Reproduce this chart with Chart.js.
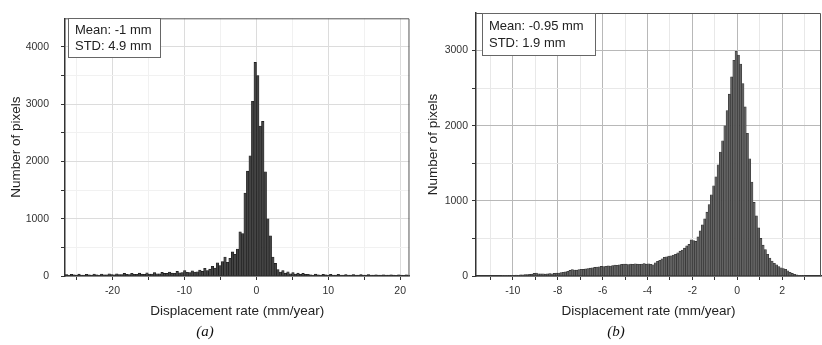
<!DOCTYPE html>
<html>
<head>
<meta charset="utf-8">
<title>Displacement rate histograms</title>
<script src="https://cdn.jsdelivr.net/npm/chart.js@4.4.1/dist/chart.umd.min.js"></script>
<style>
  html, body { margin: 0; padding: 0; background: #fff; }
  .panel { position: absolute; top: 0; width: 411px; height: 345px; }
  #panelA { left: 0; }
  #panelB { left: 411px; }
</style>
</head>
<body>
<div class="panel" id="panelA"><canvas id="chartA" width="411" height="345"></canvas></div>
<div class="panel" id="panelB"><canvas id="chartB" width="411" height="345"></canvas></div>
<script>
// panel (a): bin centres (mm/year) and pixel counts
const binCentersA = [
  -26.4, -26.05, -25.7, -25.35, -25, -24.65, -24.3, -23.95, -23.6, -23.25,
  -22.9, -22.55, -22.2, -21.85, -21.5, -21.15, -20.8, -20.45, -20.1, -19.75,
  -19.4, -19.05, -18.7, -18.35, -18, -17.65, -17.3, -16.95, -16.6, -16.25,
  -15.9, -15.55, -15.2, -14.85, -14.5, -14.15, -13.8, -13.45, -13.1, -12.75,
  -12.4, -12.05, -11.7, -11.35, -11, -10.65, -10.3, -9.95, -9.6, -9.25,
  -8.9, -8.55, -8.2, -7.85, -7.5, -7.15, -6.8, -6.45, -6.1, -5.75,
  -5.4, -5.05, -4.7, -4.35, -4, -3.65, -3.3, -2.95, -2.6, -2.25,
  -1.9, -1.55, -1.2, -0.85, -0.5, -0.15, 0.2, 0.55, 0.9, 1.25,
  1.6, 1.95, 2.3, 2.65, 3, 3.35, 3.7, 4.05, 4.4, 4.75,
  5.1, 5.45, 5.8, 6.15, 6.5, 6.85, 7.2, 7.55, 7.9, 8.25,
  8.6, 8.95, 9.3, 9.65, 10, 10.35, 10.7, 11.05, 11.4, 11.75,
  12.1, 12.45, 12.8, 13.15, 13.5, 13.85, 14.2, 14.55, 14.9, 15.25,
  15.6, 15.95, 16.3, 16.65, 17, 17.35, 17.7, 18.05, 18.4, 18.75,
  19.1, 19.45, 19.8, 20.15, 20.5, 20.85, 21.2
];
const countsA = [
  25, 15, 30, 20, 15, 32, 18, 15, 30, 20,
  18, 35, 20, 18, 35, 22, 20, 40, 25, 22,
  40, 25, 25, 45, 28, 25, 48, 30, 28, 50,
  32, 30, 55, 35, 35, 60, 40, 38, 62, 45,
  45, 70, 50, 48, 80, 55, 60, 95, 65, 60,
  90, 70, 75, 105, 80, 135, 95, 120, 170, 140,
  230, 180, 250, 330, 240, 310, 420, 380, 470, 770,
  740, 1450, 1830, 2100, 3050, 3730, 3500, 2620, 2700, 1820,
  1000, 700, 330, 220, 110, 70, 95, 50, 75, 40,
  60, 35, 50, 30, 45, 28, 30, 20, 18, 32,
  20, 18, 30, 20, 16, 28, 18, 16, 28, 18,
  15, 26, 18, 15, 25, 16, 15, 25, 16, 14,
  24, 15, 14, 22, 15, 14, 22, 14, 14, 22,
  14, 12, 20, 14, 12, 20, 15
];
const xTicksA = [-25, -20, -15, -10, -5, 0, 5, 10, 15, 20];
const yTicksA = [0, 500, 1000, 1500, 2000, 2500, 3000, 3500, 4000];
const statsA = ['Mean: -1 mm', 'STD: 4.9 mm'];

// panel (b)
const binCentersB = [
  -10.45, -10.35, -10.25, -10.15, -10.05, -9.95, -9.85, -9.75, -9.65, -9.55,
  -9.45, -9.35, -9.25, -9.15, -9.05, -8.95, -8.85, -8.75, -8.65, -8.55,
  -8.45, -8.35, -8.25, -8.15, -8.05, -7.95, -7.85, -7.75, -7.65, -7.55,
  -7.45, -7.35, -7.25, -7.15, -7.05, -6.95, -6.85, -6.75, -6.65, -6.55,
  -6.45, -6.35, -6.25, -6.15, -6.05, -5.95, -5.85, -5.75, -5.65, -5.55,
  -5.45, -5.35, -5.25, -5.15, -5.05, -4.95, -4.85, -4.75, -4.65, -4.55,
  -4.45, -4.35, -4.25, -4.15, -4.05, -3.95, -3.85, -3.75, -3.65, -3.55,
  -3.45, -3.35, -3.25, -3.15, -3.05, -2.95, -2.85, -2.75, -2.65, -2.55,
  -2.45, -2.35, -2.25, -2.15, -2.05, -1.95, -1.85, -1.75, -1.65, -1.55,
  -1.45, -1.35, -1.25, -1.15, -1.05, -0.95, -0.85, -0.75, -0.65, -0.55,
  -0.45, -0.35, -0.25, -0.15, -0.05,
  0.05, 0.15, 0.25, 0.35, 0.45, 0.55, 0.65, 0.75, 0.85, 0.95,
  1.05, 1.15, 1.25, 1.35, 1.45, 1.55, 1.65, 1.75, 1.85, 1.95,
  2.05, 2.15, 2.25, 2.35, 2.45, 2.55, 2.65, 2.75, 2.85, 2.95
];
const countsB = [
  5, 5, 8, 6, 10, 8, 12, 10, 15, 14,
  18, 20, 22, 25, 35, 40, 30, 28, 30, 25,
  28, 32, 30, 35, 38, 40, 45, 50, 55, 62,
  75, 85, 80, 78, 85, 90, 88, 95, 100, 105,
  110, 115, 120, 122, 128, 125, 130, 135, 132, 140,
  145, 142, 150, 155, 160, 158, 152, 160, 155, 162,
  158, 155, 160, 165, 158, 162, 155, 150, 175, 195,
  210, 230, 250, 255, 265, 270, 280, 290, 310, 330,
  345, 370, 400, 420, 480, 470, 460, 520, 600, 680,
  760, 850, 950, 1080, 1200, 1320, 1480, 1650, 1800, 2000,
  2200, 2420, 2650, 2870, 2990,
  2940, 2820, 2560, 2250, 1900, 1560, 1250, 980, 800, 640,
  500, 410, 350, 290, 240, 200, 170, 150, 125, 110,
  100, 90, 70, 50, 35, 22, 14, 8, 5, 3
];
const xTicksB = [-11, -10, -9, -8, -7, -6, -5, -4, -3, -2, -1, 0, 1, 2, 3];
const yTicksB = [0, 500, 1000, 1500, 2000, 2500, 3000];
const statsB = ['Mean: -0.95 mm', 'STD: 1.9 mm'];

const xTitle = 'Displacement rate (mm/year)';
const yTitle = 'Number of pixels';
const sansFamily = '"Liberation Sans", Arial, sans-serif';

function buildHistogram(canvasId, centers, counts, cfg) {
  const points = centers.map((x, i) => ({ x: x, y: counts[i] }));
  const isMajorX = (v) => v % cfg.xMajor === 0;
  const isMajorY = (v) => v % 1000 === 0;

  // top/right frame + stats box, drawn over the bars
  const overlay = {
    id: 'overlay',
    afterDraw(chart) {
      const ctx = chart.ctx;
      const a = chart.chartArea;
      ctx.save();
      ctx.strokeStyle = '#555';
      ctx.lineWidth = 1;
      ctx.beginPath();
      ctx.moveTo(a.left, a.top + 0.5);
      ctx.lineTo(a.right - 0.5, a.top + 0.5);
      ctx.lineTo(a.right - 0.5, a.bottom);
      ctx.stroke();

      const b = cfg.box;
      ctx.fillStyle = '#fff';
      ctx.fillRect(b.x, b.y, b.w, b.h);
      ctx.strokeStyle = '#666';
      ctx.strokeRect(b.x + 0.5, b.y + 0.5, b.w, b.h);
      ctx.fillStyle = '#222';
      ctx.font = '13px ' + sansFamily;
      ctx.textBaseline = 'middle';
      cfg.stats.forEach((line, i) => ctx.fillText(line, b.x + 7, b.y + b.lineY[i]));
      ctx.restore();
    }
  };

  return new Chart(document.getElementById(canvasId), {
    type: 'bar',
    data: {
      datasets: [{
        data: points,
        backgroundColor: cfg.barFill,
        borderColor: cfg.barEdge,
        borderWidth: 0.6,
        barPercentage: 1,
        categoryPercentage: 1
      }]
    },
    options: {
      responsive: false,
      animation: false,
      layout: { padding: { top: cfg.top, right: 1, left: 0, bottom: 0 } },
      plugins: {
        legend: { display: false },
        tooltip: { enabled: false },
        title: {
          display: true,
          position: 'bottom',
          text: cfg.caption,
          color: '#111',
          font: { family: '"Liberation Serif", "DejaVu Serif", serif', size: 15, style: 'italic', weight: 'normal' },
          padding: { top: 0, bottom: 4 }
        }
      },
      scales: {
        x: {
          type: 'linear',
          bounds: 'data',
          offset: false,
          min: cfg.xMin,
          max: cfg.xMax,
          afterBuildTicks: (scale) => { scale.ticks = cfg.xTicks.map((v) => ({ value: v })); },
          afterFit: (scale) => { scale.height = 47; },
          grid: {
            offset: false,
            tickLength: 4,
            tickColor: '#333',
            color: (c) => (c.tick && isMajorX(c.tick.value)) ? cfg.gridMajor : cfg.gridMinor
          },
          border: { display: true, color: '#333', width: 1.5 },
          ticks: {
            autoSkip: false,
            maxRotation: 0,
            padding: 5,
            color: '#333',
            font: { family: sansFamily, size: 10.5 },
            callback: (v) => (isMajorX(v) ? String(v) : '')
          },
          title: {
            display: true,
            text: xTitle,
            color: '#222',
            font: { family: sansFamily, size: 13.5 },
            padding: { top: 4, bottom: 4 }
          }
        },
        y: {
          bounds: 'data',
          min: 0,
          max: cfg.yMax,
          afterBuildTicks: (scale) => { scale.ticks = cfg.yTicks.map((v) => ({ value: v })); },
          afterFit: (scale) => { scale.width = 65; },
          grid: {
            tickLength: 4,
            tickColor: '#333',
            color: (c) => (c.tick && isMajorY(c.tick.value)) ? cfg.gridMajor : cfg.gridMinor
          },
          border: { display: true, color: '#333', width: 1.5 },
          ticks: {
            autoSkip: false,
            padding: cfg.yTickPad,
            color: '#333',
            font: { family: sansFamily, size: 10.5 },
            callback: (v) => (isMajorY(v) ? String(v) : '')
          },
          title: {
            display: true,
            text: yTitle,
            color: '#222',
            font: { family: sansFamily, size: 13.5 },
            padding: { top: cfg.yTitlePad, bottom: 0 }
          }
        }
      }
    },
    plugins: [overlay]
  });
}

document.addEventListener('DOMContentLoaded', () => {
  buildHistogram('chartA', binCentersA, countsA, {
    caption: '(a)',
    stats: statsA,
    box: { x: 68, y: 18, w: 92, h: 39, lineY: [12, 28] },
    top: 14,
    xMin: -26.6, xMax: 21.3, xTicks: xTicksA, xMajor: 10,
    yMax: 4500, yTicks: yTicksA,
    yTickPad: 12, yTitlePad: 8,
    barFill: '#444', barEdge: '#151515',
    gridMajor: '#dcdcdc', gridMinor: '#f1f1f1'
  });

  buildHistogram('chartB', binCentersB, countsB, {
    caption: '(b)',
    stats: statsB,
    box: { x: 71, y: 13, w: 113, h: 42, lineY: [13.5, 30] },
    top: 13,
    xMin: -11.64, xMax: 3.73, xTicks: xTicksB, xMajor: 2,
    yMax: 3500, yTicks: yTicksB,
    yTickPad: 4, yTitlePad: 14,
    barFill: '#636363', barEdge: '#2e2e2e',
    gridMajor: '#b8b8b8', gridMinor: '#e8e8e8'
  });
});
</script>
</body>
</html>
